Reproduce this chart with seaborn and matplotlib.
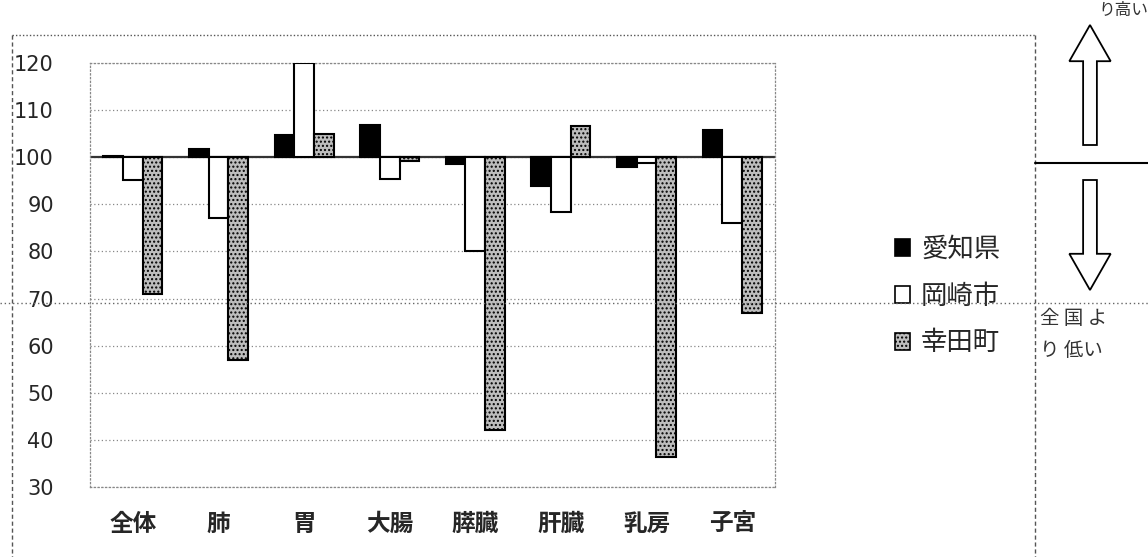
import matplotlib
matplotlib.use("Agg")
import matplotlib.pyplot as plt
import seaborn as sns
import pandas as pd
from matplotlib.lines import Line2D
from matplotlib.patches import FancyArrow

# 部位別 標準化死亡比（全国=100）
sites = ["全体", "肺", "胃", "大腸", "膵臓", "肝臓", "乳房", "子宮"]
regions = ["愛知県", "岡崎市", "幸田町"]
aichi = [100.2, 101.8, 104.8, 106.8, 98.6, 93.8, 98.0, 105.7]
okazaki = [95.1, 87.0, 120.0, 95.3, 80.0, 88.3, 98.8, 86.0]
kouta = [71.0, 57.0, 105.0, 99.2, 42.2, 106.6, 36.4, 67.0]
base = 100
yticks = [30, 40, 50, 60, 70, 80, 90, 100, 110, 120]

rows = []
for name, vals in zip(regions, [aichi, okazaki, kouta]):
    for s, v in zip(sites, vals):
        rows.append({"site": s, "region": name, "diff": v - base})
df = pd.DataFrame(rows)

sns.set_style("white")
plt.rcParams["font.family"] = ["Noto Sans CJK JP", "DejaVu Sans"]

fig = plt.figure(figsize=(11.48, 5.57), dpi=100)
ax = fig.add_axes([90 / 1148, 1 - 487 / 557, 685 / 1148, 424 / 557])

fills = ["black", "white", "#bdbdbd"]
hatches = ["", "", "...."]
sns.barplot(data=df, x="site", y="diff", hue="region", order=sites,
            hue_order=regions, palette=fills, width=0.69, saturation=1,
            edgecolor="black", linewidth=1.5, errorbar=None, ax=ax,
            zorder=3)
for cont, h in zip(ax.containers, hatches):
    for p in cont:
        p.set_hatch(h)

ax.set_ylim(yticks[0] - base, yticks[-1] - base)
ax.set_yticks([t - base for t in yticks])
ax.set_yticklabels([str(t) for t in yticks], family="DejaVu Sans",
                   fontsize=15)
ax.tick_params(axis="y", length=0, pad=26)
ax.tick_params(axis="x", length=0, pad=18)
for lab in ax.get_xticklabels():
    lab.set_fontsize(17)
    lab.set_fontweight("bold")
ax.set_xlabel("")
ax.set_ylabel("")
ax.grid(axis="y", linestyle=(0, (1, 2)), color="#888888", linewidth=0.9,
        zorder=0)
ax.axhline(0, color="#333333", linewidth=1.6, zorder=2)
for sp in ax.spines.values():
    sp.set_linestyle((0, (1, 2)))
    sp.set_color("#888888")
    sp.set_linewidth(0.9)

leg = ax.legend(loc="center left", bbox_to_anchor=(1.14, 0.45),
                frameon=False, fontsize=19, handlelength=0.6,
                handleheight=0.6, handletextpad=0.4, labelspacing=0.75)
for p, h in zip(leg.get_patches(), hatches):
    p.set_hatch(h)
    p.set_linewidth(1.2)

# 外枠
W, H = 1148, 557
def fx(x):
    return x / W
def fy(y):
    return 1 - y / H

fig.add_artist(Line2D([fx(12), fx(1035)], [fy(35), fy(35)], ls=(0, (1, 1.5)),
                      color="#555555", lw=1))
fig.add_artist(Line2D([fx(12), fx(12)], [fy(35), fy(557)], ls=(0, (3, 2)),
                      color="#555555", lw=1))
fig.add_artist(Line2D([fx(1035), fx(1035)], [fy(35), fy(557)],
                      ls=(0, (3, 2)), color="#555555", lw=1))
fig.add_artist(Line2D([fx(0), fx(1148)], [fy(303), fy(303)], ls=(0, (1, 2)),
                      color="#666666", lw=1))
fig.add_artist(Line2D([fx(1035), fx(1148)], [fy(163), fy(163)],
                      color="black", lw=1.5))

# 矢印
fig.add_artist(FancyArrow(fx(1090), fy(145), 0, fy(25) - fy(145),
                          width=0.012, head_width=0.036, head_length=0.065,
                          length_includes_head=True, fc="white",
                          ec="black", lw=1.3))
fig.add_artist(FancyArrow(fx(1090), fy(180), 0, fy(290) - fy(180),
                          width=0.012, head_width=0.036, head_length=0.065,
                          length_includes_head=True, fc="white",
                          ec="black", lw=1.3))
fig.text(fx(1040), fy(318), "全 国 よ", fontsize=14, va="center",
         color="#333333")
fig.text(fx(1040), fy(350), "り 低い", fontsize=14, va="center",
         color="#333333")
fig.text(fx(1098), fy(11), "り高い", fontsize=12, va="center",
         color="#333333")

fig.savefig("out.png", dpi=100)
